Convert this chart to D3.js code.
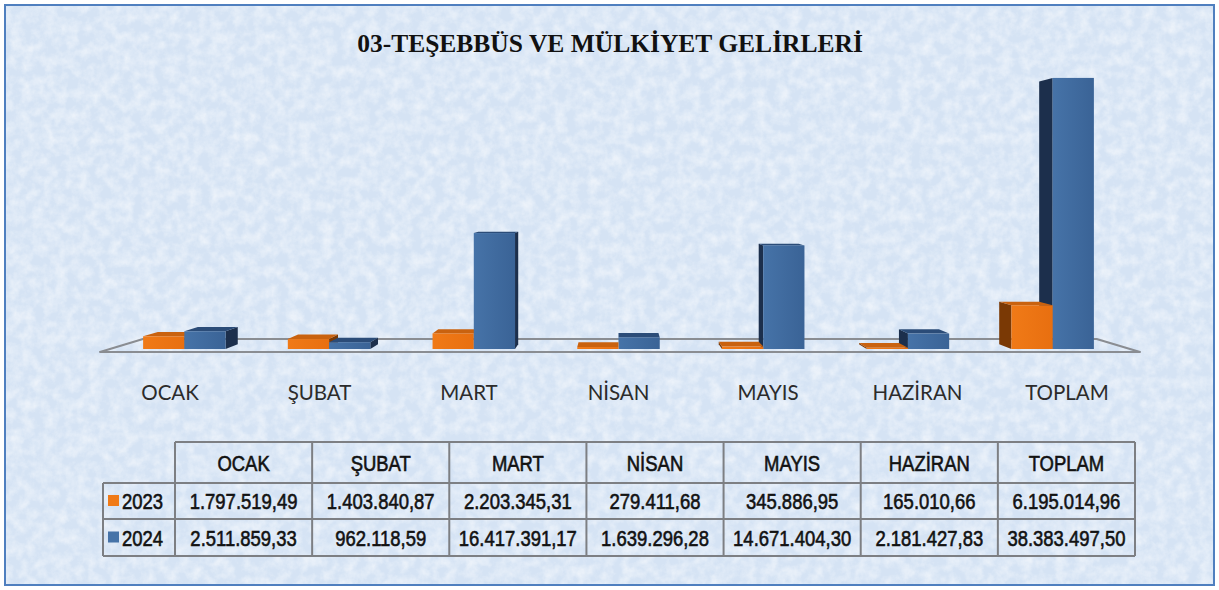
<!DOCTYPE html>
<html>
<head>
<meta charset="utf-8">
<script src="https://cdn.jsdelivr.net/npm/d3@7"></script>
<style>
  body { margin: 0; background: #fff; }
  svg { display: block; }
</style>
</head>
<body>
<svg id="chart" width="1219" height="590"></svg>
<script>
// data
var months = ["OCAK", "ŞUBAT", "MART", "NİSAN", "MAYIS", "HAZİRAN", "TOPLAM"];
var years = ["2023", "2024"];
var values2023 = [1797519.49, 1403840.87, 2203345.31, 279411.68, 345886.95, 165010.66, 6195014.96];
var values2024 = [2511859.33, 962118.59, 16417391.17, 1639296.28, 14671404.30, 2181427.83, 38383497.50];

var W = 1219, H = 590;
var svg = d3.select("#chart");

var trFormat = d3.formatLocale({decimal: ",", thousands: ".", grouping: [3], currency: ["", ""]}).format(",.2f");

var colors = {
    "2023": {front: "#f07a17", front2: "#e86f10", side: "#7a3905", top: "#c9620f"},
    "2024": {front: "#4673a8", front2: "#3a6396", side: "#1c2f4c", top: "#2b4c78"}
};

// background with a soft texture
var defs = svg.append("defs");
var f = defs.append("filter").attr("id", "tex").attr("x", 0).attr("y", 0).attr("width", 1).attr("height", 1);
f.append("feTurbulence").attr("type", "fractalNoise").attr("baseFrequency", 0.09).attr("numOctaves", 4).attr("seed", 7);
f.append("feColorMatrix").attr("type", "matrix")
    .attr("values", "0 0 0 0 1  0 0 0 0 1  0 0 0 0 1  0 0 0 -1.8 1.2");
f.append("feComposite").attr("in2", "SourceGraphic").attr("operator", "in");

years.forEach(function(y) {
    var g = defs.append("linearGradient").attr("id", "grad" + y).attr("x1", 0).attr("x2", 1).attr("y1", 0).attr("y2", 0);
    g.append("stop").attr("offset", "0%").attr("stop-color", colors[y].front);
    g.append("stop").attr("offset", "100%").attr("stop-color", colors[y].front2);
});

svg.append("rect").attr("x", 5).attr("y", 5).attr("width", W - 10).attr("height", H - 10)
    .attr("fill", "#d5e3f4");
svg.append("rect").attr("x", 5).attr("y", 5).attr("width", W - 10).attr("height", H - 10)
    .attr("fill", "#f2f7fd").attr("filter", "url(#tex)").attr("opacity", 0.55);
svg.append("rect").attr("x", 5).attr("y", 5).attr("width", W - 10).attr("height", H - 10)
    .attr("fill", "none").attr("stroke", "#4f7fbf").attr("stroke-width", 2);

// title
svg.append("text")
    .attr("x", 610).attr("y", 52)
    .attr("text-anchor", "middle")
    .style("font-family", "'Liberation Serif', 'DejaVu Serif', serif")
    .style("font-weight", "bold")
    .style("font-size", "25.5px")
    .attr("fill", "#111")
    .text("03-TEŞEBBÜS VE MÜLKİYET GELİRLERİ");

// scales
var x = d3.scaleBand().domain(months).range([112, 1125]).paddingInner(0.43).paddingOuter(0.215);
var x1 = d3.scaleBand().domain(years).range([0, x.bandwidth()]);
var y = d3.scaleLinear().domain([0, 40000000]).range([349, 349 - 282.5]);

// perspective
var vpX = 618, vpY = 195;
function back(px, py, k) {
    return [px + (vpX - px) * k, py + (vpY - py) * k];
}

// floor
var floorL = 100, floorR = 1140, floorY = 352, floorK = 0.083;
var bl = back(floorL, floorY, floorK), br = back(floorR, floorY, floorK);
svg.append("path")
    .attr("d", "M" + floorL + "," + floorY + "L" + floorR + "," + floorY + "L" + br + "L" + bl + "Z")
    .attr("fill", "none").attr("stroke", "#8a8d92").attr("stroke-width", 2).attr("stroke-linejoin", "round");

// bars
var bars = [];
months.forEach(function(m, i) {
    years.forEach(function(yr) {
        var v = yr === "2023" ? values2023[i] : values2024[i];
        var x0 = x(m) + x1(yr);
        bars.push({month: m, year: yr, value: v, x0: x0, x1: x0 + x1.bandwidth(), dist: Math.abs(x0 + x1.bandwidth() / 2 - vpX)});
    });
});
bars.sort(function(a, b) { return b.dist - a.dist; });

var k = 0.031;
var barG = svg.append("g");
bars.forEach(function(b) {
    var g = barG.append("g");
    var yt = y(b.value), yb = y(0);
    var c = colors[b.year];
    // side face
    var sx = (b.x1 + b.x0) / 2 < vpX ? b.x1 : b.x0;
    if (Math.abs((b.x0 + b.x1) / 2 - vpX) > 3) {
        var p1 = back(sx, yt, k), p2 = back(sx, yb, k);
        g.append("path")
            .attr("d", "M" + sx + "," + yt + "L" + p1 + "L" + p2 + "L" + sx + "," + yb + "Z")
            .attr("fill", c.side);
    }
    // top face
    if (yt > vpY) {
        var t1 = back(b.x0, yt, k), t2 = back(b.x1, yt, k);
        g.append("path")
            .attr("d", "M" + b.x0 + "," + yt + "L" + t1 + "L" + t2 + "L" + b.x1 + "," + yt + "Z")
            .attr("fill", c.top);
    }
    // front face
    g.append("rect")
        .attr("x", b.x0).attr("y", yt)
        .attr("width", b.x1 - b.x0).attr("height", Math.max(0.5, yb - yt))
        .attr("fill", "url(#grad" + b.year + ")");
});

// category labels on the front edge of the floor
svg.append("g").selectAll("text")
    .data(months)
    .enter().append("text")
    .attr("x", function(d) { return vpX + (x(d) + x.bandwidth() / 2 - vpX) * 1.033; })
    .attr("y", 400)
    .attr("text-anchor", "middle")
    .style("font-family", "Lato, 'Open Sans', sans-serif")
    .style("font-size", "20.5px")
    .attr("fill", "#2b2b2b")
    .text(function(d) { return d; });

// data table
var tx = d3.scaleBand().domain(months).range([175, 1135]);
var rowY = [442, 483, 519, 556];
var table = svg.append("g").attr("stroke", "#7d7f83").attr("stroke-width", 2).attr("fill", "none");
table.append("line").attr("x1", 175).attr("x2", 1135).attr("y1", rowY[0]).attr("y2", rowY[0]);
[1, 2, 3].forEach(function(r) {
    table.append("line").attr("x1", 103).attr("x2", 1135).attr("y1", rowY[r]).attr("y2", rowY[r]);
});
table.append("line").attr("x1", 103).attr("x2", 103).attr("y1", rowY[1]).attr("y2", rowY[3]);
months.forEach(function(m) {
    table.append("line").attr("x1", tx(m)).attr("x2", tx(m)).attr("y1", rowY[0]).attr("y2", rowY[3]);
});
table.append("line").attr("x1", 1135).attr("x2", 1135).attr("y1", rowY[0]).attr("y2", rowY[3]);

// narrow table text: Arial-like font squeezed horizontally
var squeeze = 0.84;
function tstyle(sel) {
    sel.style("font-family", "'Liberation Sans', Arial, sans-serif").style("font-size", "22px")
        .attr("fill", "#121212").attr("stroke", "#121212").attr("stroke-width", 0.6);
}
svg.append("g").selectAll("text")
    .data(months)
    .enter().append("text")
    .attr("transform", function(d) {
        return "translate(" + (tx(d) + tx.bandwidth() / 2) + "," + ((rowY[0] + rowY[1]) / 2 + 8) + ") scale(" + squeeze + ",1)";
    })
    .attr("text-anchor", "middle")
    .call(tstyle)
    .text(function(d) { return d; });

[values2023, values2024].forEach(function(vals, r) {
    var cy = (rowY[r + 1] + rowY[r + 2]) / 2;
    svg.append("g").selectAll("text")
        .data(vals)
        .enter().append("text")
        .attr("transform", function(d, i) {
            return "translate(" + (tx(months[i]) + tx.bandwidth() / 2) + "," + (cy + 8) + ") scale(" + squeeze + ",1)";
        })
        .attr("text-anchor", "middle")
        .call(tstyle)
        .text(function(d) { return trFormat(d); });
    svg.append("rect")
        .attr("x", 108).attr("y", cy - 6).attr("width", 11).attr("height", 11)
        .attr("fill", colors[years[r]].front);
    svg.append("text")
        .attr("transform", "translate(122," + (cy + 8) + ") scale(" + squeeze + ",1)")
        .call(tstyle)
        .text(years[r]);
});
</script>
</body>
</html>
